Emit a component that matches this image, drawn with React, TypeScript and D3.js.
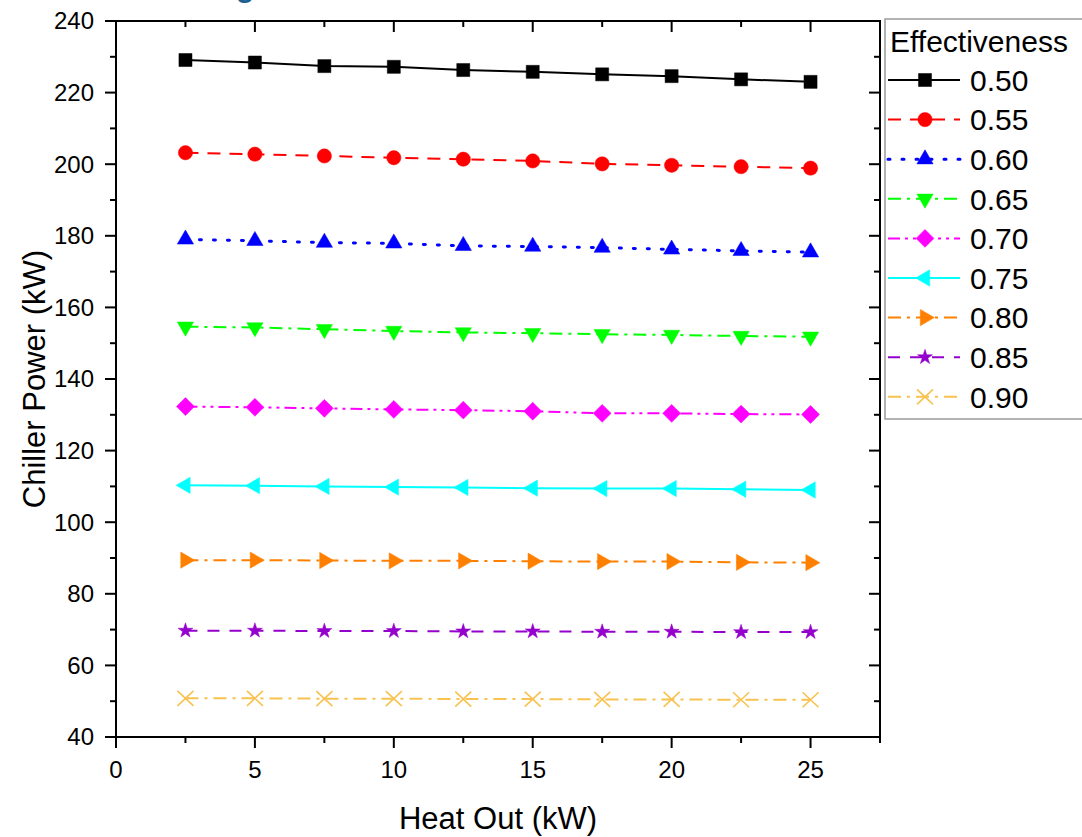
import React from "react";
import * as d3 from "d3";

// heat out (kW)
const heatOut = [2.5, 5, 7.5, 10, 12.5, 15, 17.5, 20, 22.5, 25];

// chiller power (kW) per effectiveness
const eff050 = [229.1, 228.4, 227.4, 227.2, 226.3, 225.8, 225.1, 224.6, 223.7, 223.0];
const eff055 = [203.2, 202.8, 202.3, 201.8, 201.4, 200.9, 200.1, 199.7, 199.3, 198.9];
const eff060 = [179.0, 178.6, 178.1, 177.9, 177.2, 177.0, 176.7, 176.2, 175.8, 175.4];
const eff065 = [154.6, 154.4, 153.9, 153.4, 153.0, 152.8, 152.5, 152.3, 152.0, 151.8];
const eff070 = [132.3, 132.1, 131.8, 131.5, 131.3, 131.0, 130.4, 130.4, 130.2, 130.1];
const eff075 = [110.3, 110.2, 110.0, 109.8, 109.7, 109.5, 109.4, 109.4, 109.2, 109.0];
const eff080 = [89.4, 89.4, 89.3, 89.2, 89.2, 89.1, 89.0, 89.0, 88.8, 88.7];
const eff085 = [69.7, 69.7, 69.6, 69.6, 69.5, 69.5, 69.4, 69.4, 69.3, 69.3];
const eff090 = [50.8, 50.8, 50.7, 50.7, 50.6, 50.6, 50.5, 50.5, 50.4, 50.4];

const labels = ["0.50", "0.55", "0.60", "0.65", "0.70", "0.75", "0.80", "0.85", "0.90"];
const values = [eff050, eff055, eff060, eff065, eff070, eff075, eff080, eff085, eff090];

const colors = ["#000000", "#ff0000", "#0000ff", "#00ff00", "#ff00ff", "#00ffff", "#ff8000", "#9400cc", "#f7c24f"];
const dashes = ["none", "13,9", "2,12", "13,6,3,6", "12,5,3,5,3,5", "none", "13,6,3,6", "12,10", "13,6,3,6"];
const markers = ["square", "circle", "up", "down", "diamond", "left", "right", "star", "x"];

const yTicks = [40, 60, 80, 100, 120, 140, 160, 180, 200, 220, 240];
const xTicks = [0, 5, 10, 15, 20, 25];

const font = "'Liberation Sans', Arial, sans-serif";

// marker path for a given kind
function markerPath(kind: string): { d: string; rot: number; stroke: boolean } {
  const sym = (t: d3.SymbolType, s: number) => d3.symbol(t, s)() as string;
  switch (kind) {
    case "square":
      return { d: sym(d3.symbolSquare, 170), rot: 0, stroke: false };
    case "circle":
      return { d: sym(d3.symbolCircle, 160), rot: 0, stroke: false };
    case "up":
      return { d: sym(d3.symbolTriangle, 115), rot: 0, stroke: false };
    case "down":
      return { d: sym(d3.symbolTriangle, 115), rot: 180, stroke: false };
    case "diamond":
      return { d: sym(d3.symbolSquare, 160), rot: 45, stroke: false };
    case "left":
      return { d: sym(d3.symbolTriangle, 115), rot: -90, stroke: false };
    case "right":
      return { d: sym(d3.symbolTriangle, 115), rot: 90, stroke: false };
    case "star":
      return { d: sym(d3.symbolStar, 70), rot: 0, stroke: false };
    default:
      return { d: "M-8,-7.5L8,7.5M-8,7.5L8,-7.5", rot: 0, stroke: true };
  }
}

function Marker({ kind, x, y, color }: { kind: string; x: number; y: number; color: string }) {
  const m = markerPath(kind);
  return (
    <path
      d={m.d}
      transform={`translate(${x},${y}) rotate(${m.rot})`}
      fill={m.stroke ? "none" : color}
      stroke={color}
      strokeWidth={m.stroke ? 1.6 : 0.5}
    />
  );
}

export default function App() {
  const left = 116;
  const right = 880;
  const top = 21;
  const bottom = 737;

  const x = d3.scaleLinear().domain([0, 27.5]).range([left, right]);
  const y = d3.scaleLinear().domain([40, 240]).range([bottom, top]);

  const line = d3
    .line<number>()
    .x((_, i) => x(heatOut[i]))
    .y((d) => y(d));

  const yMinor = d3.range(50, 240, 20);
  const xMinor = d3.range(2.5, 28, 5);

  const legendX = 885;
  const legendRow0 = 80;
  const legendStep = 39.6;

  return (
    <svg
      width={1082}
      height={837}
      style={{ position: "absolute", left: 0, top: 0, background: "#fff" }}
      fontFamily={font}
    >
      <rect width={1082} height={837} fill="#fff" />
      {/* title remnant, cut off at the top edge as in the source */}
      <text x={236} y={-3} fontSize={30} fontWeight="bold" fill="#1d5e93">
        g
      </text>

      {/* series */}
      {values.map((vals, s) => (
        <g key={labels[s]}>
          <path
            d={line(vals) as string}
            fill="none"
            stroke={colors[s]}
            strokeWidth={s === 2 ? 3 : 2}
            strokeDasharray={dashes[s]}
            strokeLinecap={s === 2 ? "round" : "butt"}
          />
          {vals.map((v, i) => (
            <Marker key={i} kind={markers[s]} x={x(heatOut[i])} y={y(v)} color={colors[s]} />
          ))}
        </g>
      ))}

      {/* frame */}
      <rect x={left} y={top} width={right - left} height={bottom - top} fill="none" stroke="#000" strokeWidth={2} />

      {/* y ticks */}
      {yTicks.map((t) => (
        <g key={"y" + t}>
          <line x1={left - 11} x2={left} y1={y(t)} y2={y(t)} stroke="#000" strokeWidth={2} />
          <line x1={right - 11} x2={right} y1={y(t)} y2={y(t)} stroke="#000" strokeWidth={2} />
          <text x={left - 22} y={y(t)} dy="0.35em" textAnchor="end" fontSize={24} fill="#000">
            {t}
          </text>
        </g>
      ))}
      {yMinor.map((t) => (
        <g key={"ym" + t}>
          <line x1={left - 6} x2={left} y1={y(t)} y2={y(t)} stroke="#000" strokeWidth={2} />
          <line x1={right - 6} x2={right} y1={y(t)} y2={y(t)} stroke="#000" strokeWidth={2} />
        </g>
      ))}

      {/* x ticks */}
      {xTicks.map((t) => (
        <g key={"x" + t}>
          <line x1={x(t)} x2={x(t)} y1={bottom} y2={bottom + 11} stroke="#000" strokeWidth={2} />
          <line x1={x(t)} x2={x(t)} y1={top} y2={top + 11} stroke="#000" strokeWidth={2} />
          <text x={x(t)} y={bottom + 41} textAnchor="middle" fontSize={24} fill="#000">
            {t}
          </text>
        </g>
      ))}
      {xMinor.map((t) => (
        <g key={"xm" + t}>
          <line x1={x(t)} x2={x(t)} y1={bottom} y2={bottom + 6} stroke="#000" strokeWidth={2} />
          <line x1={x(t)} x2={x(t)} y1={top} y2={top + 6} stroke="#000" strokeWidth={2} />
        </g>
      ))}

      {/* axis titles */}
      <text x={498} y={829} textAnchor="middle" fontSize={31} fill="#000">
        Heat Out (kW)
      </text>
      <text
        transform={`translate(45,${(top + bottom) / 2}) rotate(-90)`}
        textAnchor="middle"
        fontSize={31}
        fill="#000"
      >
        Chiller Power (kW)
      </text>

      {/* legend */}
      <rect x={legendX} y={19} width={210} height={400} fill="#fff" stroke="#9a9a9a" strokeWidth={1.5} />
      <text x={890} y={52} fontSize={30} fill="#000">
        Effectiveness
      </text>
      {labels.map((lab, s) => {
        const ly = legendRow0 + s * legendStep;
        return (
          <g key={"lg" + lab}>
            <line
              x1={888}
              x2={960}
              y1={ly}
              y2={ly}
              stroke={colors[s]}
              strokeWidth={s === 2 ? 3 : 2}
              strokeDasharray={dashes[s]}
              strokeLinecap={s === 2 ? "round" : "butt"}
            />
            <Marker kind={markers[s]} x={925} y={ly} color={colors[s]} />
            <text x={970} y={ly} dy="0.36em" fontSize={30} fill="#000">
              {lab}
            </text>
          </g>
        );
      })}
    </svg>
  );
}
